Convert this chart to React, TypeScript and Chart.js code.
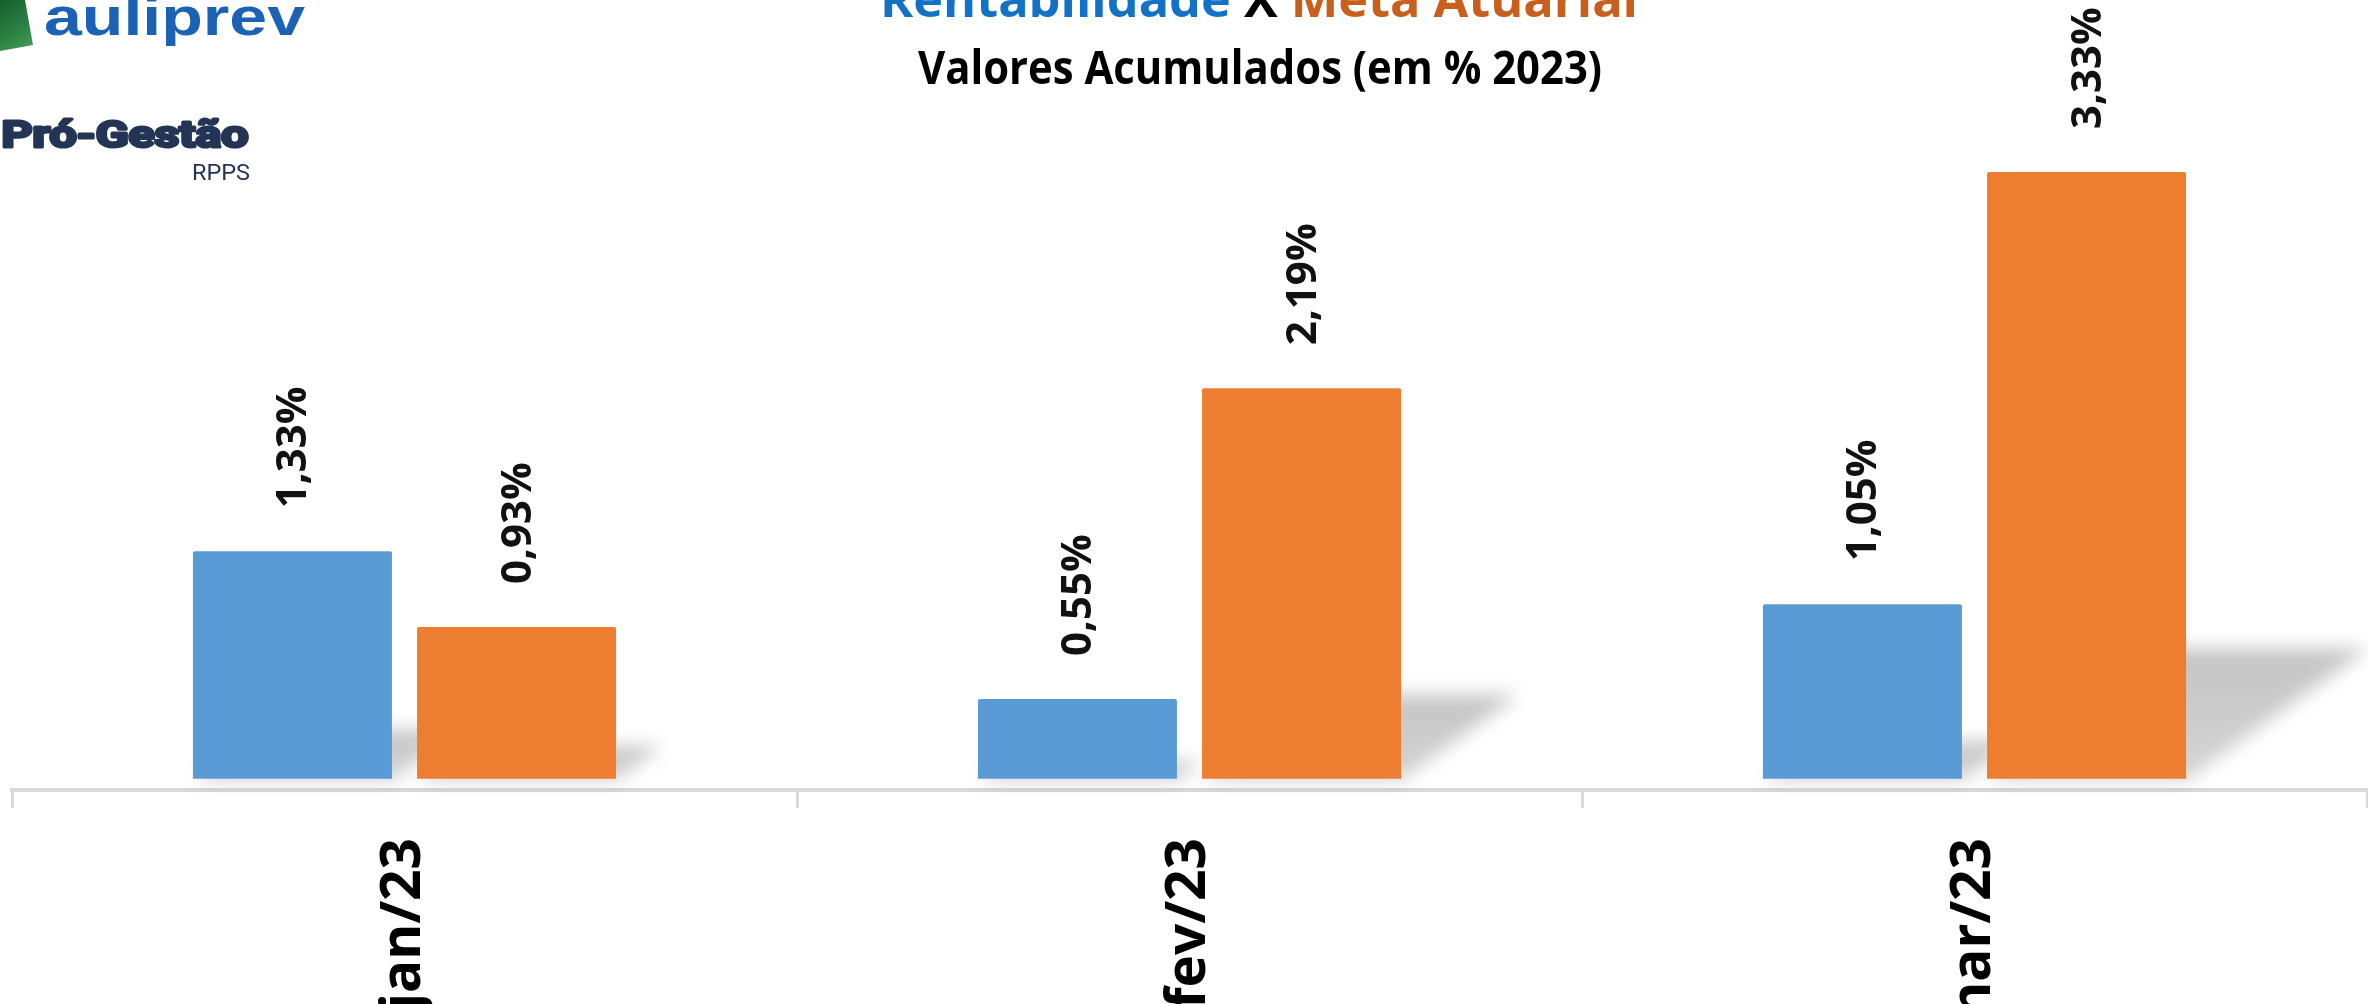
import React, { useEffect, useRef } from "react";
import { Chart, registerables } from "chart.js";

Chart.register(...registerables);

// ---- data ----
const categories = ["jan/23", "fev/23", "mar/23"];
const seriesNames = ["Rentabilidade", "Meta Atuarial"];
const rentabilidade = [1.33, 0.55, 1.05];
const metaAtuarial = [0.93, 2.19, 3.33];
const titleLine1 = ["Rentabilidade", " X ", "Meta Atuarial"];
const titleLine2 = "Valores Acumulados (em % 2023)";
const logoText = "auliprev";
const badgeText = "Pró-Gestão";
const badgeSub = "RPPS";

// ---- scale constants ----
const Y_MIN = 0.07;
const Y_MAX = 3.71;
const BAR_BASE = 0.13;

const BLUE = "#5b9bd5";
const ORANGE = "#ed7d31";
const FONT = "'Open Sans', 'DejaVu Sans', sans-serif";

const fmt = (v: number) => v.toFixed(2).replace(".", ",") + "%";

function drawFit(
  ctx: CanvasRenderingContext2D,
  text: string,
  x: number,
  y: number,
  font: string,
  color: string | CanvasGradient,
  width: number,
  stroke = 0
) {
  ctx.save();
  ctx.font = font;
  ctx.fillStyle = color;
  ctx.textAlign = "left";
  ctx.textBaseline = "alphabetic";
  const w = ctx.measureText(text).width;
  ctx.translate(x + stroke / 2, y);
  ctx.scale((width - stroke) / w, 1);
  ctx.fillText(text, 0, 0);
  if (stroke > 0) {
    ctx.strokeStyle = color as string;
    ctx.lineWidth = stroke;
    ctx.lineJoin = "round";
    ctx.strokeText(text, 0, 0);
  }
  ctx.restore();
}

const shadowPlugin = {
  id: "barShadow",
  beforeDatasetsDraw(chart: any) {
    const ctx = chart.ctx as CanvasRenderingContext2D;
    ctx.save();
    ctx.filter = "blur(9px)";
    chart.data.datasets.forEach((_: any, di: number) => {
      const meta = chart.getDatasetMeta(di);
      meta.data.forEach((el: any) => {
        const x0 = el.x - el.width / 2;
        const x1 = el.x + el.width / 2;
        const b = el.base;
        const h = b - el.y;
        const s = h * 0.3;
        const hs = h * 0.215;
        const g = ctx.createLinearGradient(0, b, 0, b - hs);
        g.addColorStop(0, "rgba(0,0,0,0.17)");
        g.addColorStop(1, "rgba(0,0,0,0.23)");
        ctx.fillStyle = g;
        ctx.beginPath();
        ctx.moveTo(x0, b + 2);
        ctx.lineTo(x1, b + 2);
        ctx.lineTo(x1 + s, b - hs);
        ctx.lineTo(x0 + s, b - hs);
        ctx.closePath();
        ctx.fill();
      });
    });
    ctx.restore();
  },
};

const labelPlugin = {
  id: "barLabels",
  afterDatasetsDraw(chart: any) {
    const ctx = chart.ctx as CanvasRenderingContext2D;
    chart.data.datasets.forEach((ds: any, di: number) => {
      const meta = chart.getDatasetMeta(di);
      meta.data.forEach((el: any, i: number) => {
        ctx.save();
        ctx.translate(el.x + 2, el.y - 43);
        ctx.rotate(-Math.PI / 2);
        ctx.font = `bold 42px ${FONT}`;
        ctx.fillStyle = "#111";
        ctx.textAlign = "left";
        ctx.textBaseline = "middle";
        ctx.fillText(fmt(ds.data[i]), 0, 0);
        ctx.restore();
      });
    });
  },
};

const decorPlugin = {
  id: "decor",
  afterDraw(chart: any) {
    const ctx = chart.ctx as CanvasRenderingContext2D;
    // title line 1 (multi-coloured), fitted to width
    ctx.save();
    ctx.font = `bold 48px ${FONT}`;
    const colors = ["#1372c6", "#000000", "#c95f1c"];
    const widths = titleLine1.map((t) => ctx.measureText(t).width);
    const total = widths.reduce((a, b) => a + b, 0);
    const k = 758 / total;
    ctx.translate(880, 17);
    ctx.scale(k, 1);
    ctx.textBaseline = "alphabetic";
    let cx = 0;
    titleLine1.forEach((t, i) => {
      ctx.fillStyle = colors[i];
      ctx.fillText(t, cx, 0);
      cx += widths[i];
    });
    ctx.restore();

    // title line 2
    drawFit(ctx, titleLine2, 918, 84, `bold 46px ${FONT}`, "#000", 684);

    // logo shape
    ctx.save();
    const gg = ctx.createLinearGradient(0, 0, 34, 50);
    gg.addColorStop(0, "#155e2c");
    gg.addColorStop(0.6, "#2c8444");
    gg.addColorStop(1, "#4d9d5e");
    ctx.fillStyle = gg;
    ctx.beginPath();
    ctx.moveTo(0, 0);
    ctx.lineTo(25, 0);
    ctx.lineTo(33, 45);
    ctx.lineTo(0, 51);
    ctx.closePath();
    ctx.fill();
    ctx.restore();

    drawFit(ctx, logoText, 44, 35, `bold 54px 'Liberation Sans', Arial, sans-serif`, "#1b62b5", 261);
    drawFit(ctx, badgeText, 0, 147, `bold 37px Roboto, sans-serif`, "#243454", 250, 3);
    drawFit(ctx, badgeSub, 192, 180, `400 22px Roboto, sans-serif`, "#243454", 58);
  },
};

export default function App() {
  const ref = useRef<HTMLCanvasElement | null>(null);

  useEffect(() => {
    document.body.style.margin = "0";
    document.body.style.overflow = "hidden";
    const canvas = ref.current;
    if (!canvas) return;
    const chart = new Chart(canvas, {
      type: "bar",
      data: {
        labels: categories,
        datasets: [
          {
            label: seriesNames[0],
            data: rentabilidade,
            backgroundColor: BLUE,
            base: BAR_BASE,
            barPercentage: 0.888,
            categoryPercentage: 0.571,
            borderRadius: 2,
          } as any,
          {
            label: seriesNames[1],
            data: metaAtuarial,
            backgroundColor: ORANGE,
            base: BAR_BASE,
            barPercentage: 0.888,
            categoryPercentage: 0.571,
            borderRadius: 2,
          } as any,
        ],
      },
      options: {
        animation: false,
        responsive: false,
        devicePixelRatio: 1,
        layout: { padding: { left: 12, right: 1, top: 100, bottom: 0 } },
        plugins: {
          legend: { display: false },
          title: { display: false },
          tooltip: { enabled: false },
        },
        scales: {
          x: {
            offset: true,
            grid: {
              offset: true,
              drawOnChartArea: false,
              drawTicks: true,
              tickLength: 18,
              color: "#d9d9d9",
              lineWidth: 3,
            },
            border: { display: true, color: "#d9d9d9", width: 4 },
            ticks: {
              minRotation: 90,
              maxRotation: 90,
              autoSkip: false,
              padding: 30,
              color: "#000",
              font: { family: FONT, size: 55, weight: "bold" },
            },
            afterFit: (s: any) => {
              s.height = 214;
            },
          },
          y: { display: false, min: Y_MIN, max: Y_MAX },
        },
      },
      plugins: [shadowPlugin, labelPlugin, decorPlugin],
    });
    return () => chart.destroy();
  }, []);

  return (
    <div style={{ position: "fixed", left: 0, top: 0, width: 2368, height: 1004, background: "#fff" }}>
      <canvas ref={ref} width={2368} height={1004} style={{ width: 2368, height: 1004, display: "block" }} />
    </div>
  );
}
